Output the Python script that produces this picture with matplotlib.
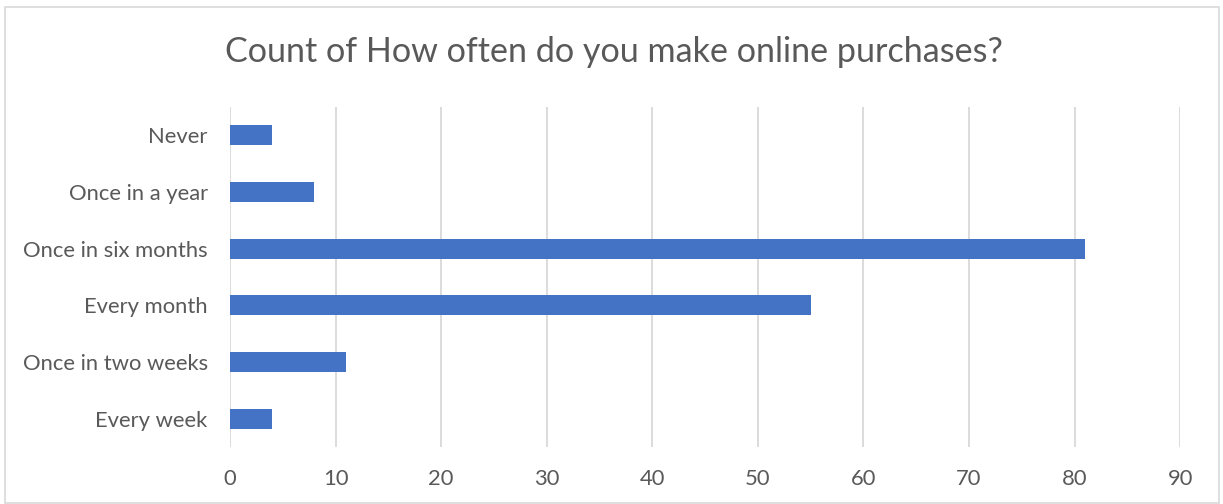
import matplotlib.pyplot as plt
from matplotlib.patches import Rectangle

# survey answers, top to bottom as shown
categories = ["Never", "Once in a year", "Once in six months",
              "Every month", "Once in two weeks", "Every week"]
counts = [4, 8, 81, 55, 11, 4]
xticks = [0, 10, 20, 30, 40, 50, 60, 70, 80, 90]

text_color = "#595959"
grid_color = "#D9D9D9"
bar_color = "#4472C4"

plt.rcParams["font.family"] = ["Lato", "DejaVu Sans"]

fig = plt.figure(figsize=(12.23, 5.04), dpi=100)
ax = fig.add_axes([0.188, 0.113, 0.777, 0.675])

# first category at the top
pos = list(range(len(categories)))[::-1]
ax.barh(pos, counts, height=0.35, color=bar_color, zorder=3)

ax.set_xlim(0, 90)
ax.set_ylim(-0.5, len(categories) - 0.5)
ax.set_xticks(xticks)
ax.set_yticks(pos)
ax.set_yticklabels(categories)
ax.grid(axis="x", color=grid_color, linewidth=1.3, zorder=0)
ax.tick_params(length=0, labelsize=15.8, colors=text_color)
ax.tick_params(axis="x", pad=16)
ax.tick_params(axis="y", pad=16)
for s in ax.spines.values():
    s.set_visible(False)

fig.text(0.502, 0.897, "Count of How often do you make online purchases?",
         ha="center", va="center", fontsize=24.6, color=text_color)

# chart frame
fig.patches.append(Rectangle((0.004, 0.002), 0.993, 0.984, transform=fig.transFigure,
                             fill=False, edgecolor=grid_color, linewidth=1.2))

fig.savefig("out.png", dpi=100)
